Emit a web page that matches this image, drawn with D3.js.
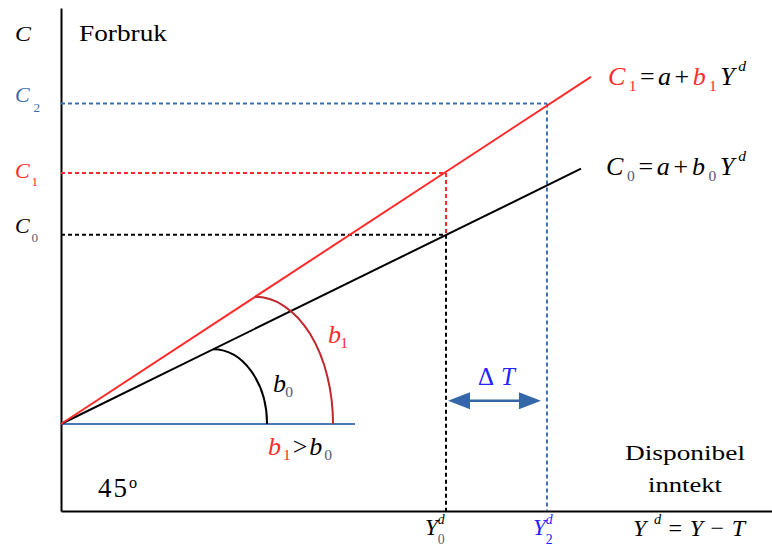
<!DOCTYPE html>
<html>
<head>
<meta charset="utf-8">
<script src="https://cdn.jsdelivr.net/npm/d3@7"></script>
<style>
  html, body { margin: 0; padding: 0; background: #fff; }
  svg { display: block; }
</style>
</head>
<body>
<svg id="chart" width="772" height="546"></svg>
<script>
// ---- data (abstract units: x 0..100, y 0..100) ----
const intercept = 17.3;                 // a
const slopes = [0.694, 0.926];          // b0, b1
const lineEndX = [73.14, 74.54];        // where C0 and C1 lines end
const incomeLevels = [54.15, 68.35];    // Y0^d, Y2^d
const consumptionLevels = [54.9, 67.2, 81.0]; // C0, C1, C2
const baseLineEnd = 41.35;              // horizontal reference line length
const arcStartX = [21.38, 27.29];       // where the angle arcs leave the lines (b0, b1)
const arcRadiusX = [7.6, 10.97];
const deltaTLevel = 21.9;

const FONT = '"Liberation Serif", "Tinos", "Times New Roman", serif';
const svg = d3.select("#chart");
const x = d3.scaleLinear().domain([0, 100]).range([61, 772]);
const y = d3.scaleLinear().domain([0, 100]).range([511, 8]);

const RED = "#ff2b2b", DARKRED = "#c0282d", STEEL = "#3d6db0", BLUE = "#2424ff", GRAYSUB = "#55607a";

// axes
svg.append("g").attr("transform", `translate(${x(0)},0)`)
  .call(d3.axisLeft(y).tickValues([]).tickSizeOuter(0));
svg.append("g").attr("transform", `translate(0,${y(0)})`)
  .call(d3.axisBottom(x).tickValues([]).tickSizeOuter(0));
svg.selectAll(".domain").attr("stroke", "#000").attr("stroke-width", 2);

// base horizontal line
svg.append("line")
  .attr("x1", x(0)).attr("y1", y(intercept))
  .attr("x2", x(baseLineEnd)).attr("y2", y(intercept))
  .attr("stroke", "#4a78b5").attr("stroke-width", 2);

// dashed guide lines
const dash = "4,3";
function dl(x1, y1, x2, y2, color) {
  svg.append("line").attr("x1", x(x1)).attr("y1", y(y1)).attr("x2", x(x2)).attr("y2", y(y2))
    .attr("stroke", color).attr("stroke-width", 2).attr("stroke-dasharray", dash);
}
dl(0, consumptionLevels[2], incomeLevels[1], consumptionLevels[2], STEEL);
dl(incomeLevels[1], consumptionLevels[2], incomeLevels[1], 0, STEEL);
dl(0, consumptionLevels[1], incomeLevels[0], consumptionLevels[1], RED);
dl(incomeLevels[0], consumptionLevels[1], incomeLevels[0], consumptionLevels[0], RED);
dl(0, consumptionLevels[0], incomeLevels[0], consumptionLevels[0], "#000");
dl(incomeLevels[0], consumptionLevels[0], incomeLevels[0], 0, "#000");

// consumption lines
const lineGen = d3.line().x(d => x(d[0])).y(d => y(d[1]));
[[0, "#000"], [1, RED]].forEach(([i, c]) => {
  svg.append("path")
    .attr("d", lineGen([[0, intercept], [lineEndX[i], intercept + slopes[i] * lineEndX[i]]]))
    .attr("fill", "none").attr("stroke", c).attr("stroke-width", 2);
});

// angle arcs (quarter ellipses)
[[0, "#000"], [1, DARKRED]].forEach(([i, c]) => {
  const sx = arcStartX[i];
  const top = intercept + slopes[i] * sx;
  const rxPx = x(sx + arcRadiusX[i]) - x(sx);
  const ryPx = y(intercept) - y(top);
  svg.append("path")
    .attr("d", `M${x(sx)},${y(top)} A${rxPx},${ryPx} 0 0 1 ${x(sx + arcRadiusX[i])},${y(intercept)}`)
    .attr("fill", "none").attr("stroke", c).attr("stroke-width", 2);
});

// delta T arrow
(function () {
  const ay = y(deltaTLevel);
  const x1 = x(incomeLevels[0]) + 2, x2 = x(incomeLevels[1]) - 6;
  const hl = 22, hw = 8.5, col = "#3566a8";
  svg.append("line").attr("x1", x1 + hl - 2).attr("y1", ay).attr("x2", x2 - hl + 2).attr("y2", ay)
    .attr("stroke", col).attr("stroke-width", 2.5);
  svg.append("path").attr("d", `M${x1},${ay} L${x1 + hl},${ay - hw} L${x1 + hl},${ay + hw} Z`).attr("fill", col);
  svg.append("path").attr("d", `M${x2},${ay} L${x2 - hl},${ay - hw} L${x2 - hl},${ay + hw} Z`).attr("fill", col);
})();

// ---- text helpers ----
function plain(tx, ty, str, size, tl, opts = {}) {
  const t = svg.append("text").attr("x", tx).attr("y", ty)
    .style("font-family", FONT).attr("font-size", size).attr("fill", opts.color || "#000")
    .text(str);
  if (opts.italic) t.style("font-style", "italic");
  if (tl) t.attr("textLength", tl).attr("lengthAdjust", "spacingAndGlyphs");
  return t;
}
function math(tx, ty, parts, size, tl, subK = 0.3, supK = 0.5, subScale = 0.6) {
  const t = svg.append("text").attr("x", tx).attr("y", ty)
    .style("font-family", FONT).attr("font-size", size);
  let shift = 0;
  parts.forEach(p => {
    const target = p.r === "sub" ? size * subK : p.r === "sup" ? -size * supK : 0;
    const ts = t.append("tspan").text(p.t)
      .attr("dy", target - shift)
      .attr("fill", p.c || "#000")
      .style("font-family", FONT)
      .style("font-style", p.n ? "normal" : "italic")
      .attr("font-size", p.r ? size * subScale : size);
    if (p.dx) ts.attr("dx", p.dx);
    shift = target;
  });
  if (tl) t.attr("textLength", tl).attr("lengthAdjust", "spacing");
  return t;
}

// left labels
plain(15, 41, "C", 22, 16, { italic: true });
plain(79, 41, "Forbruk", 23, 88);
math(15, 102, [{ t: "C", c: STEEL }, { t: "2", r: "sub", c: STEEL, n: true }], 22, 25, 0.45);
math(15, 178, [{ t: "C", c: RED }, { t: "1", r: "sub", c: RED, n: true }], 22, 23, 0.38);
math(15, 233, [{ t: "C" }, { t: "0", r: "sub", c: GRAYSUB, n: true }], 22, 23, 0.4);

// equations
math(608, 85, [
  { t: "C", c: RED }, { t: "1", r: "sub", c: RED, n: true },
  { t: "=", n: true }, { t: "a" }, { t: "+", n: true },
  { t: "b", c: RED }, { t: "1", r: "sub", c: RED, n: true },
  { t: "Y" }, { t: "d", r: "sup" }
], 26, 138, 0.24, 0.55);
math(606, 175, [
  { t: "C" }, { t: "0", r: "sub", c: GRAYSUB, n: true },
  { t: "=", n: true }, { t: "a" }, { t: "+", n: true },
  { t: "b" }, { t: "0", r: "sub", c: GRAYSUB, n: true },
  { t: "Y" }, { t: "d", r: "sup" }
], 26, 140, 0.24, 0.55);

// angle labels
math(328, 343, [{ t: "b", c: RED }, { t: "1", r: "sub", c: RED, n: true }], 26, 20, 0.2);
math(273, 392, [{ t: "b" }, { t: "0", r: "sub", c: GRAYSUB, n: true }], 26, 20, 0.2);
math(268, 455, [
  { t: "b", c: RED }, { t: "1", r: "sub", c: RED, n: true },
  { t: ">", n: true },
  { t: "b" }, { t: "0", r: "sub", c: GRAYSUB, n: true }
], 26, 64, 0.2);

// delta T
math(478, 385, [{ t: "Δ", c: BLUE, n: true }, { t: " T", c: BLUE }], 25, 37);

// axis-side labels
plain(625, 460, "Disponibel", 22, 120);
plain(648, 492, "inntekt", 22, 74);
math(98, 497, [{ t: "45", n: true }, { t: "o", r: "sup", n: true }], 27, 39, 0.3, 0.35);

// x-axis labels
math(425, 535, [
  { t: "Y" }, { t: "d", r: "sup" }, { t: "0", r: "sub", n: true, c: GRAYSUB, dx: -7 }
], 23, null, 0.4, 0.5);
math(533, 535, [
  { t: "Y", c: BLUE }, { t: "d", r: "sup", c: BLUE }, { t: "2", r: "sub", n: true, c: BLUE, dx: -7 }
], 23, null, 0.4, 0.5);
math(633, 536, [
  { t: "Y" }, { t: "d", r: "sup" }, { t: "=", n: true }, { t: "Y" }, { t: "−", n: true }, { t: "T" }
], 24, 112, 0.3, 0.5);
</script>
</body>
</html>
